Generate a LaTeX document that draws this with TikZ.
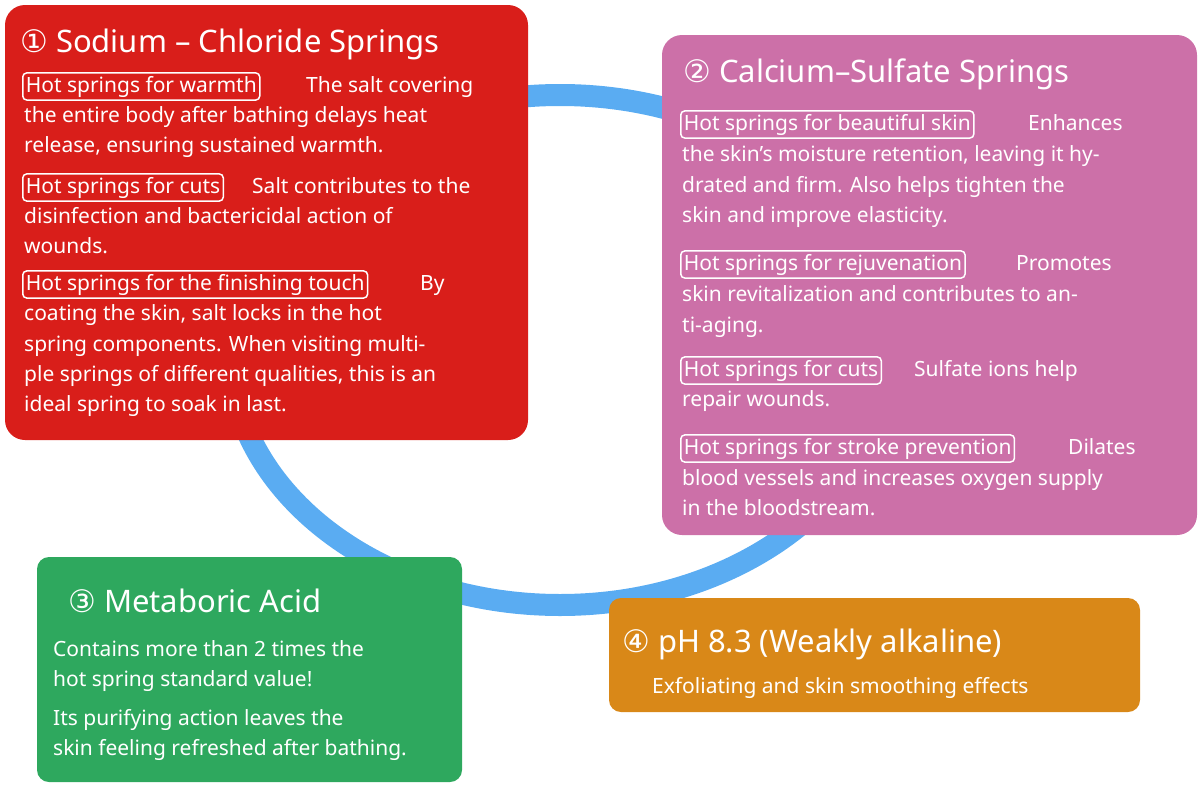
\documentclass[tikz,border=0pt]{standalone}
\usepackage{fontspec}
\setmainfont{Noto Sans}
\newfontfamily\circfont{DejaVu Sans}
\definecolor{cred}{HTML}{D91E1A}
\definecolor{cpink}{HTML}{CC70A8}
\definecolor{cgreen}{HTML}{2EA85E}
\definecolor{corange}{HTML}{D98818}
\definecolor{cblue}{HTML}{5AACF2}
\begin{document}
\begin{tikzpicture}[x=1pt,y=-1pt,
  box/.style={rounded corners=20pt},
  t/.style={anchor=base west,text=white,inner sep=0pt,font=\fontsize{21}{24}\selectfont},
  ttl/.style={anchor=base west,text=white,inner sep=0pt,font=\fontsize{31}{36}\selectfont},
  lab/.style={anchor=base west,text=white,draw=white,line width=1.5pt,rounded corners=4pt,inner xsep=3pt,inner ysep=3pt,font=\fontsize{21}{24}\selectfont}]
\useasboundingbox (0,0) rectangle (1202,787);
\draw[cblue,line width=22pt] (560,350) ellipse [x radius=330,y radius=255];
\fill[cred,box] (5,5) rectangle (528,440);
\fill[cpink,box] (662,35) rectangle (1197,535);
\fill[cgreen,rounded corners=12pt] (37,557) rectangle (462,782);
\fill[corange,rounded corners=12pt] (609,598) rectangle (1140,712);
% red
\node[ttl] (r0) at (20,52) {{\circfont ①} Sodium – Chloride Springs};
\node[lab] (r1l) at (22,92) {Hot springs for warmth};
\node[t] (r1) at (306,92) {The salt covering};
\node[t] (r2) at (24,122) {the entire body after bathing delays heat};
\node[t] (r3) at (24,152) {release, ensuring sustained warmth.};
\node[lab] (r4l) at (22,193) {Hot springs for cuts};
\node[t] (r4) at (252,193) {Salt contributes to the};
\node[t] (r5) at (24,223) {disinfection and bactericidal action of};
\node[t] (r6) at (24,253) {wounds.};
\node[lab] (r7l) at (22,290) {Hot springs for the finishing touch};
\node[t] (r7) at (420,290) {By};
\node[t] (r8) at (24,320) {coating the skin, salt locks in the hot};
\node[t] (r9) at (24,351) {spring components. When visiting multi-};
\node[t] (r10) at (24,381) {ple springs of different qualities, this is an};
\node[t] (r11) at (24,411) {ideal spring to soak in last.};
% pink
\node[ttl] (p0) at (683,82) {{\circfont ②} Calcium–Sulfate Springs};
\node[lab] (p1l) at (680,130) {Hot springs for beautiful skin};
\node[t] (p1) at (1028,130) {Enhances};
\node[t] (p2) at (682,161) {the skin’s moisture retention, leaving it hy-};
\node[t] (p3) at (682,192) {drated and firm. Also helps tighten the};
\node[t] (p4) at (682,222) {skin and improve elasticity.};
\node[lab] (p5l) at (680,270) {Hot springs for rejuvenation};
\node[t] (p5) at (1016,270) {Promotes};
\node[t] (p6) at (682,301) {skin revitalization and contributes to an-};
\node[t] (p7) at (682,332) {ti-aging.};
\node[lab] (p8l) at (680,376) {Hot springs for cuts};
\node[t] (p8) at (914,376) {Sulfate ions help};
\node[t] (p9) at (682,406) {repair wounds.};
\node[lab] (p10l) at (680,454) {Hot springs for stroke prevention};
\node[t] (p10) at (1068,454) {Dilates};
\node[t] (p11) at (682,485) {blood vessels and increases oxygen supply};
\node[t] (p12) at (682,515) {in the bloodstream.};
% green
\node[ttl] (g0) at (68,612) {{\circfont ③} Metaboric Acid};
\node[t] (g1) at (53,656) {Contains more than 2 times the};
\node[t] (g2) at (53,686) {hot spring standard value!};
\node[t] (g3) at (53,725) {Its purifying action leaves the};
\node[t] (g4) at (53,755) {skin feeling refreshed after bathing.};
% orange
\node[ttl] (o0) at (622,652) {{\circfont ④} pH 8.3 (Weakly alkaline)};
\node[t] (o1) at (652,693) {Exfoliating and skin smoothing effects};
\end{tikzpicture}
\end{document}
